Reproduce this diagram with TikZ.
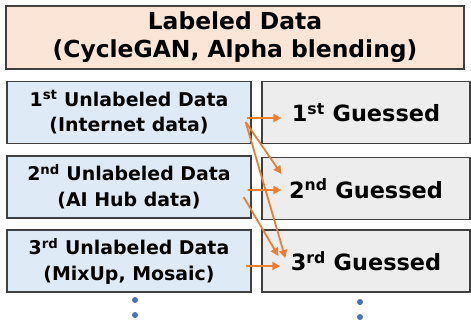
\documentclass[tikz,border=0pt]{standalone}
\usepackage{fontspec}
\setmainfont{DejaVu Sans}
\usetikzlibrary{arrows.meta,calc}
\definecolor{peach}{HTML}{FBE5D6}
\definecolor{paleblue}{HTML}{DEEBF7}
\definecolor{palegray}{HTML}{EDEDED}
\definecolor{edge}{HTML}{404040}
\definecolor{accent}{HTML}{ED7D31}
\definecolor{dotblue}{HTML}{4472C4}
\tikzset{
  box/.style={draw=edge, line width=1.3bp, inner sep=0pt, align=center},
  srcbox/.style={box, fill=paleblue, minimum width=244bp, minimum height=62bp, font=\fontsize{19}{26}\selectfont\bfseries},
  gbox/.style={box, fill=palegray, minimum width=208bp, minimum height=62bp, font=\fontsize{22.5}{26}\selectfont\bfseries},
  link/.style={draw=accent, line width=1.8bp, -{Triangle[length=8bp,width=8bp]}},
  vdot/.style={circle, fill=dotblue, inner sep=0pt, minimum size=6bp}
}
\begin{document}
\begin{tikzpicture}[x=1bp,y=-1bp]
\useasboundingbox (0,0) rectangle (471,323);
% header
\node[box, fill=peach, minimum width=458bp, minimum height=63bp,
      font=\fontsize{23.5}{28}\selectfont\bfseries] (lab) at (235,37.5)
      {Labeled Data\\(CycleGAN, Alpha blending)};
% unlabeled sources
\node[srcbox] (l1) at (129,112.5) {1\textsuperscript{st} Unlabeled Data\\(Internet data)};
\node[srcbox] (l2) at (129,187) {2\textsuperscript{nd} Unlabeled Data\\(AI Hub data)};
\node[srcbox] (l3) at (129,261) {3\textsuperscript{rd} Unlabeled Data\\(MixUp, Mosaic)};
% guessed labels
\node[gbox] (r1) at (366,112.5) {1\textsuperscript{st} Guessed};
\node[gbox] (r2) at (366,188.5) {2\textsuperscript{nd} Guessed};
\node[gbox] (r3) at (366,261) {3\textsuperscript{rd} Guessed};
% links
\draw[link] ($(l1.east)+(-5,5.5)$) -- ($(r1.west)+(20,5.5)$);
\draw[link] ($(l1.east)+(-6,9.5)$) -- ($(r2.west)+(20,-14.5)$);
\draw[link] ($(l1.east)+(-6,9.5)$) -- ($(r3.west)+(24,-3)$);
\draw[link] ($(l2.east)+(-4,3)$) -- ($(r2.west)+(20,1.5)$);
\draw[link] ($(l2.east)+(-8,10)$) -- ($(r3.west)+(17,-5)$);
\draw[link] ($(l3.east)+(-6,5)$) -- ($(r3.west)+(19,5)$);
% continuation dots
\node[vdot] (a1) at (135,300) {};
\node[vdot] (a2) at (135,315) {};
\node[vdot] (b1) at (360,302) {};
\node[vdot] (b2) at (360,317) {};
\end{tikzpicture}
\end{document}
